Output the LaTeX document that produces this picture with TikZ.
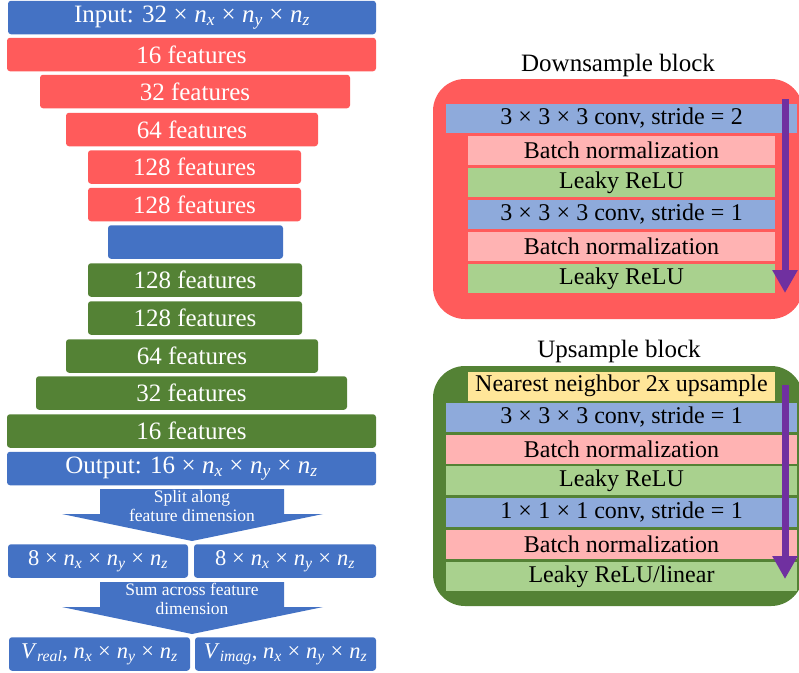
\documentclass[tikz,border=0pt]{standalone}
\usepackage{fontspec}
\setmainfont{Liberation Serif}[Ligatures=TeX]
\usetikzlibrary{arrows.meta}
\definecolor{cblue}{HTML}{4472C4}
\definecolor{cred}{HTML}{FF5B5B}
\definecolor{cgreen}{HTML}{548235}
\definecolor{lblue}{HTML}{8EAADB}
\definecolor{lpink}{HTML}{FFB3B3}
\definecolor{lgreen}{HTML}{A9D18E}
\definecolor{lyellow}{HTML}{FFE699}
\definecolor{cpurple}{HTML}{7030A0}
% italic variable with italic subscript, set in the text font
\newcommand{\var}[2]{\textit{#1}\textsubscript{\textit{#2}}}
\newcommand{\tms}{\hspace{0.26em}×\hspace{0.26em}}
\newcommand{\eqs}{\hspace{0.26em}=\hspace{0.26em}}
\newcommand{\dims}{\var{n}{x}\tms\var{n}{y}\tms\var{n}{z}}
\newcommand{\conv}[2]{#1\tms#1\tms#1 conv, stride\eqs#2}
\begin{document}
\begin{tikzpicture}[x=1pt,y=-1pt,
  layer/.style={rounded corners=3pt, inner sep=0pt, text=white,
    font=\fontsize{25}{28}\selectfont, minimum height=33.5pt},
  small/.style={font=\fontsize{22.5}{26}\selectfont},
  blk/.style={inner sep=0pt, minimum height=29pt, text=black,
    font=\fontsize{24}{27}\selectfont},
  title/.style={inner sep=0pt, font=\fontsize{25}{28}\selectfont},
  arrowtext/.style={inner sep=0pt, text=white, align=center,
    font=\fontsize{17.5}{19}\selectfont},
  container/.style={rounded corners=32pt},
  flow/.style={draw=cpurple, line width=7pt,
    -{Triangle[width=24pt,length=23pt]}}
]
\useasboundingbox (0,0) rectangle (799,672);

% ---- encoder / decoder stack ----
\node[layer, fill=cblue, minimum width=368pt] (in) at (192,17.5) {Input: 32\tms\dims};
\node[layer, fill=cred, minimum width=369pt] (d1) at (191.5,54.5) {16 features};
\node[layer, fill=cred, minimum width=310pt] (d2) at (195,91.5) {32 features};
\node[layer, fill=cred, minimum width=252pt] (d3) at (192,129.5) {64 features};
\node[layer, fill=cred, minimum width=213pt] (d4) at (194.5,167) {128 features};
\node[layer, fill=cred, minimum width=213pt] (d5) at (194.5,204.5) {128 features};
\node[layer, fill=cblue, minimum width=175pt] (mid) at (195.5,242) {};
\node[layer, fill=cgreen, minimum width=214pt] (u1) at (195,280) {128 features};
\node[layer, fill=cgreen, minimum width=214pt] (u2) at (195,318) {128 features};
\node[layer, fill=cgreen, minimum width=252pt] (u3) at (192,356) {64 features};
\node[layer, fill=cgreen, minimum width=311pt] (u4) at (191.5,393) {32 features};
\node[layer, fill=cgreen, minimum width=369pt] (u5) at (191.5,431) {16 features};
\node[layer, fill=cblue, minimum width=369pt] (out) at (191.5,468.5) {Output: 16\tms\dims};

% ---- split arrow ----
\fill[cblue] (100,489) -- (284,489) -- (284,514) -- (323,514) -- (192,541)
  -- (62,514) -- (100,514) -- cycle;
\node[arrowtext] (splittxt) at (192,506) {Split along\\feature dimension};

\node[layer, small, fill=cblue, minimum width=180pt] (s1) at (98,561) {8\tms\dims};
\node[layer, small, fill=cblue, minimum width=182pt] (s2) at (285,561) {8\tms\dims};

% ---- sum arrow ----
\fill[cblue] (100,582) -- (284,582) -- (284,607) -- (323,607) -- (192,634)
  -- (62,607) -- (100,607) -- cycle;
\node[arrowtext] (sumtxt) at (192,599) {Sum across feature\\dimension};

\node[layer, small, fill=cblue, minimum width=181pt] (r1) at (99.5,654) {\var{V}{real}, \dims};
\node[layer, small, fill=cblue, minimum width=181pt] (r2) at (285.5,654) {\var{V}{imag}, \dims};

% ---- downsample block ----
\node[title] (dtitle) at (618,65) {Downsample block};
\fill[cred, container] (433,79) rectangle (803,319);
\node[blk, fill=lblue, minimum width=351pt] (dc2) at (621.5,118.5) {\conv{3}{2}};
\node[blk, fill=lpink, minimum width=307pt] (dbn1) at (621.5,150.5) {Batch normalization};
\node[blk, fill=lgreen, minimum width=307pt] (dlr1) at (621.5,182.5) {Leaky ReLU};
\node[blk, fill=lblue, minimum width=307pt] (dc1) at (621.5,214.5) {\conv{3}{1}};
\node[blk, fill=lpink, minimum width=307pt] (dbn2) at (621.5,246.5) {Batch normalization};
\node[blk, fill=lgreen, minimum width=307pt] (dlr2) at (621.5,278.5) {Leaky ReLU};
\coordinate (dtop) at (785,99);
\coordinate (dbot) at (785,293);
\draw[flow] (dtop) -- (dbot);

% ---- upsample block ----
\node[title] (utitle) at (619,351) {Upsample block};
\fill[cgreen, container] (433,366) rectangle (803,606);
\node[blk, fill=lyellow, minimum width=307pt] (unn) at (621.5,386) {Nearest neighbor 2x upsample};
\node[blk, fill=lblue, minimum width=351pt] (uc3) at (621.5,417.5) {\conv{3}{1}};
\node[blk, fill=lpink, minimum width=351pt] (ubn1) at (621.5,449) {Batch normalization};
\node[blk, fill=lgreen, minimum width=351pt] (ulr) at (621.5,480.5) {Leaky ReLU};
\node[blk, fill=lblue, minimum width=351pt] (uc1) at (621.5,512.5) {\conv{1}{1}};
\node[blk, fill=lpink, minimum width=351pt] (ubn2) at (621.5,544.5) {Batch normalization};
\node[blk, fill=lgreen, minimum width=351pt] (ulin) at (621.5,576.5) {Leaky ReLU/linear};
\coordinate (utop) at (785,385);
\coordinate (ubot) at (785,579);
\draw[flow] (utop) -- (ubot);
\end{tikzpicture}
\end{document}
